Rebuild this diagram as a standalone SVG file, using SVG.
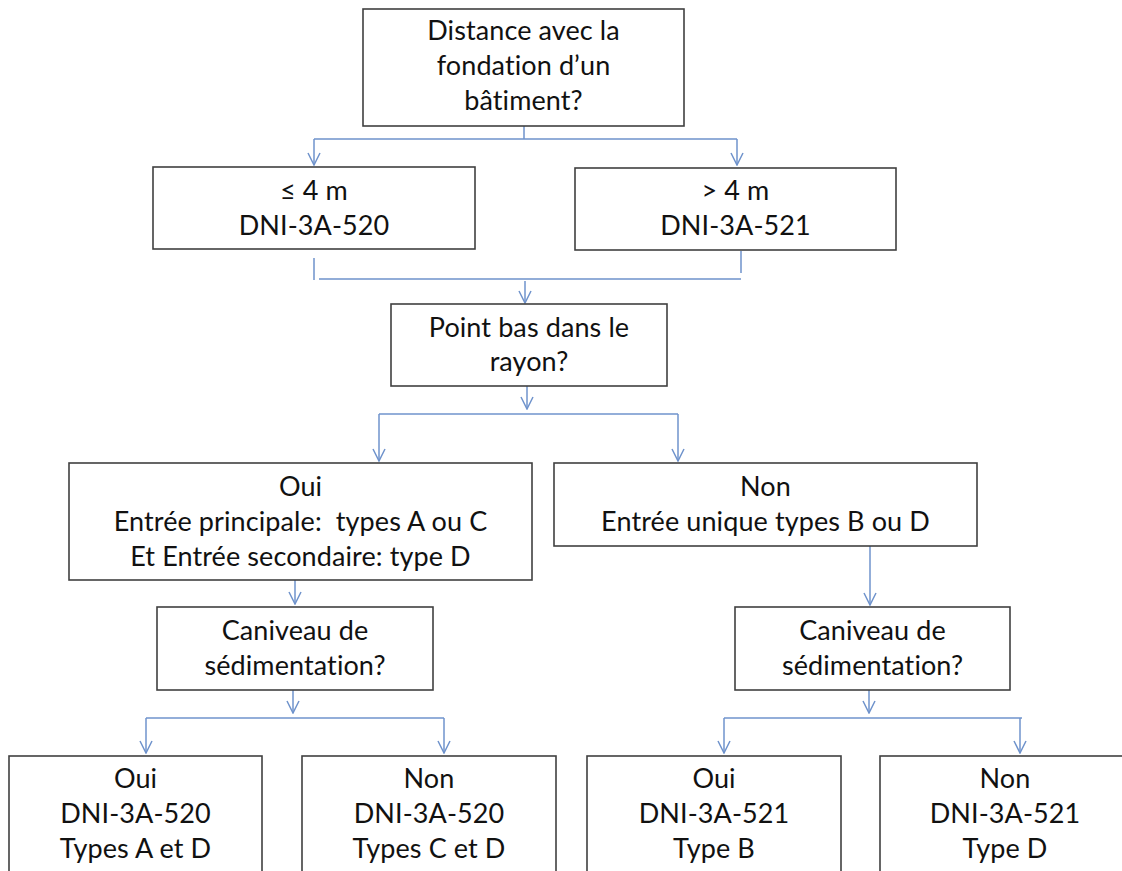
<svg xmlns="http://www.w3.org/2000/svg" width="1122" height="871" viewBox="0 0 1122 871">
<defs>
<style>
.box{fill:#fff;stroke:#404040;stroke-width:1.6}
.t{font-family:Lato,"Liberation Sans",sans-serif;font-size:27px;fill:#111;text-anchor:middle;font-variant-ligatures:none;font-feature-settings:"liga" 0,"clig" 0,"dlig" 0;letter-spacing:0.1px}
.c{fill:none;stroke:#6f93cc;stroke-width:1.5}
.a{marker-end:url(#arr)}
</style>
<marker id="arr" viewBox="0 0 14 14" refX="13" refY="7" markerWidth="14" markerHeight="14" markerUnits="userSpaceOnUse" orient="auto">
<path d="M1,1 L13,7 L1,13" fill="none" stroke="#6f93cc" stroke-width="1.5"/>
</marker>
</defs>
<rect width="1122" height="871" fill="#fff"/>
<g id="connectors">
<path class="c" d="M524,126 V139 M314,139 H737"/>
<path class="c a" d="M314,139 V165"/>
<path class="c a" d="M737,139 V165"/>
<path class="c" d="M314,258 V280 M741,251 V273 M319,279 H741"/>
<path class="c a" d="M525,281 V303"/>
<path class="c a" d="M527,386 V409"/>
<path class="c" d="M379,414 H678"/>
<path class="c a" d="M379,414 V461"/>
<path class="c a" d="M678,414 V461"/>
<path class="c a" d="M295,580 V604"/>
<path class="c a" d="M870,546 V605"/>
<path class="c a" d="M293,690 V713"/>
<path class="c" d="M146,718 H444"/>
<path class="c a" d="M146,718 V753"/>
<path class="c a" d="M444,718 V753"/>
<path class="c a" d="M869,690 V713"/>
<path class="c" d="M724,718 H1022"/>
<path class="c a" d="M724,718 V753"/>
<path class="c a" d="M1020,718 V753"/>
</g>
<g id="n1"><rect class="box" x="363" y="9" width="321" height="117"/>
<text class="t" x="523.5" y="40">Distance avec la</text>
<text class="t" x="523.5" y="75">fondation d’un</text>
<text class="t" x="523.5" y="110">bâtiment?</text></g>
<g id="n2"><rect class="box" x="153" y="167" width="322" height="82"/>
<text class="t" x="314" y="200">≤ 4 m</text>
<text class="t" x="314" y="235">DNI-3A-520</text></g>
<g id="n3"><rect class="box" x="575" y="168" width="321" height="82"/>
<text class="t" x="735.5" y="200">&gt; 4 m</text>
<text class="t" x="735.5" y="235">DNI-3A-521</text></g>
<g id="n4"><rect class="box" x="391" y="304" width="276" height="82"/>
<text class="t" x="529" y="337">Point bas dans le</text>
<text class="t" x="529" y="371">rayon?</text></g>
<g id="n5"><rect class="box" x="69" y="463" width="463" height="117"/>
<text class="t" x="300.5" y="496">Oui</text>
<text class="t" x="300.5" y="531" xml:space="preserve">Entrée principale:  types A ou C</text>
<text class="t" x="300.5" y="566">Et Entrée secondaire: type D</text></g>
<g id="n6"><rect class="box" x="554" y="463" width="423" height="83"/>
<text class="t" x="765.5" y="496">Non</text>
<text class="t" x="765.5" y="531">Entrée unique types B ou D</text></g>
<g id="n7"><rect class="box" x="157" y="607" width="276" height="83"/>
<text class="t" x="295" y="640">Caniveau de</text>
<text class="t" x="295" y="675">sédimentation?</text></g>
<g id="n8"><rect class="box" x="735" y="607" width="275" height="83"/>
<text class="t" x="872.5" y="640">Caniveau de</text>
<text class="t" x="872.5" y="675">sédimentation?</text></g>
<g id="n9"><rect class="box" x="9" y="756" width="253" height="130"/>
<text class="t" x="135.5" y="788">Oui</text>
<text class="t" x="135.5" y="823">DNI-3A-520</text>
<text class="t" x="135.5" y="858">Types A et D</text></g>
<g id="n10"><rect class="box" x="302" y="756" width="254" height="130"/>
<text class="t" x="429" y="788">Non</text>
<text class="t" x="429" y="823">DNI-3A-520</text>
<text class="t" x="429" y="858">Types C et D</text></g>
<g id="n11"><rect class="box" x="587" y="756" width="254" height="130"/>
<text class="t" x="714" y="788">Oui</text>
<text class="t" x="714" y="823">DNI-3A-521</text>
<text class="t" x="714" y="858">Type B</text></g>
<g id="n12"><rect class="box" x="880" y="756" width="260" height="130"/>
<text class="t" x="1005" y="788">Non</text>
<text class="t" x="1005" y="823">DNI-3A-521</text>
<text class="t" x="1005" y="858">Type D</text></g>
</svg>
